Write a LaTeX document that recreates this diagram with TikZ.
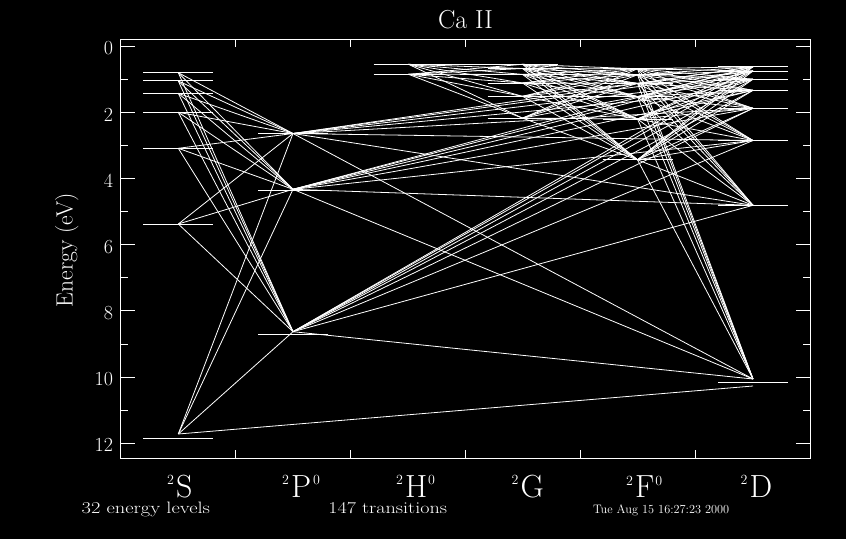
\documentclass[tikz,border=0pt]{standalone}
\usepackage{graphicx}
\newcommand\levelat[4]{\coordinate (#1) at (#2,#4); \draw[levline] ({#2-35},#3) -- ({#2+35},#3);}
\begin{document}
\begin{tikzpicture}[x=1pt,y=-1pt,
  every node/.style={text=white, inner sep=0pt, outer sep=0pt},
  frame/.style={draw=white, line width=1pt},
  tick/.style={draw=white, line width=1pt},
  levline/.style={draw=white, line width=1pt},
  trans/.style={draw=white, line width=0.8pt},
  ticklab/.style={font=\fontsize{20}{20}\selectfont, anchor=east},
  collab/.style={font=\fontsize{32}{32}\selectfont, anchor=base west},
  suplab/.style={font=\fontsize{14}{14}\selectfont},
  infolab/.style={font=\fontsize{16.5}{16.5}\selectfont, anchor=base west},
]
\fill[black] (0,0) rectangle (846,539);
\useasboundingbox (0,0) rectangle (846,539);

% frame and ticks
\draw[frame] (120,39) rectangle (810,458);
\foreach \e in {0,2,...,12} {
  \draw[tick] (120,{46.3+33.08*\e}) -- ++(15,0);
  \draw[tick] (810,{46.3+33.08*\e}) -- ++(-14,0);
  \node[ticklab] (yl\e) at (113,{48.3+33.08*\e}) {\e};
}
\foreach \e in {1,3,...,11} {
  \draw[tick] (120,{46.3+33.08*\e}) -- ++(8,0);
  \draw[tick] (810,{46.3+33.08*\e}) -- ++(-7,0);
}
\foreach \x in {235,350,465.5,580.5,695.5} {
  \draw[tick] (\x,39) -- (\x,47);
  \draw[tick] (\x,458) -- (\x,450);
}

% energy levels: name, column x, level-line y, convergence y
\levelat{S1}{178.3}{438.3}{434}
\levelat{S2}{178.3}{224.3}{224}
\levelat{S3}{178.3}{148}{148.3}
\levelat{S4}{178.3}{112.7}{112.3}
\levelat{S5}{178.3}{93.3}{93.3}
\levelat{S6}{178.3}{80}{81}
\levelat{S7}{178.3}{72}{72.7}
\levelat{P1}{293}{334}{331.7}
\levelat{P2}{293}{190.7}{189.3}
\levelat{P3}{293}{133.3}{133.5}
\levelat{H1}{408.5}{74.3}{74.3}
\levelat{H2}{408.5}{64.3}{64.3}
\levelat{G1}{522.5}{118.1}{118.1}
\levelat{G2}{522.5}{96.3}{96.3}
\levelat{G3}{522.5}{83}{83}
\levelat{G4}{522.5}{74.4}{74.4}
\levelat{G5}{522.5}{68.5}{68.5}
\levelat{G6}{522.5}{64.3}{64.3}
\levelat{F1}{637.5}{159.8}{159.8}
\levelat{F2}{637.5}{119}{119}
\levelat{F3}{637.5}{96.6}{96.6}
\levelat{F4}{637.5}{83.4}{83.4}
\levelat{F5}{637.5}{74.8}{74.8}
\levelat{F6}{637.5}{68.8}{68.8}
\levelat{D1}{753}{382.3}{379}
\levelat{D2}{753}{205.3}{205.3}
\levelat{D3}{753}{140.5}{140.5}
\levelat{D4}{753}{108.3}{108.3}
\levelat{D5}{753}{90.3}{90.3}
\levelat{D6}{753}{79.2}{79.2}
\levelat{D7}{753}{71}{71}
\levelat{D8}{753}{66.7}{66.7}
\coordinate (D1q) at (753,386);

% transitions
\foreach \i in {1,...,7}{\foreach \j in {1,2,3}{\draw[trans] (S\i) -- (P\j);}}
\foreach \i in {1,2,3}{\foreach \j in {1,...,8}{\draw[trans] (P\i) -- (D\j);}}
\foreach \i in {1,...,8}{\foreach \j in {1,...,6}{\draw[trans] (D\i) -- (F\j);}}
\foreach \i in {1,...,6}{\foreach \j in {1,...,6}{\draw[trans] (F\i) -- (G\j);}}
\foreach \i in {1,...,6}{\foreach \j in {1,2}{\draw[trans] (G\i) -- (H\j);}}
\draw[trans] (S1) -- (D1q);

% title and axis label
\node[font=\fontsize{26}{26}\selectfont, anchor=base] (title) at (465.5,28.3) {Ca II};
\node[font=\fontsize{23.5}{23.5}\selectfont, rotate=90, anchor=base] (ylab) at (72.7,250) {Energy (eV)};

% column labels
\node[collab] (lS) at (176,497.5) {S};
\node[suplab, anchor=north east] (lS2) at ([xshift=-2pt]lS.north west) {2};
\node[collab] (lP) at (291,497.5) {P};
\node[suplab, anchor=north east] (lP2) at ([xshift=-2pt]lP.north west) {2};
\node[suplab, anchor=north west] (lP0) at ([xshift=2pt]lP.north east) {0};
\node[collab] (lH) at (405,497.5) {H};
\node[suplab, anchor=north east] (lH2) at ([xshift=-2pt]lH.north west) {2};
\node[suplab, anchor=north west] (lH0) at ([xshift=1pt]lH.north east) {0};
\node[collab] (lG) at (520.5,497.5) {G};
\node[suplab, anchor=north east] (lG2) at ([xshift=-2pt]lG.north west) {2};
\node[collab] (lF) at (635,497.5) {F};
\node[suplab, anchor=north east] (lF2) at ([xshift=-2pt]lF.north west) {2};
\node[suplab, anchor=north west] (lF0) at ([xshift=1pt]lF.north east) {0};
\node[collab] (lD) at (749.5,497.5) {D};
\node[suplab, anchor=north east] (lD2) at ([xshift=-2pt]lD.north west) {2};

% info texts
\node[infolab] (nlev) at (81.7,513) {\scalebox{1.24}[1]{32 energy levels}};
\node[infolab] (ntr) at (328.3,513) {\scalebox{1.22}[1]{147 transitions}};
\node[font=\fontsize{12.3}{12.3}\selectfont, anchor=base west] (date) at (593,513) {Tue Aug 15 16:27:23 2000};
\end{tikzpicture}
\end{document}
